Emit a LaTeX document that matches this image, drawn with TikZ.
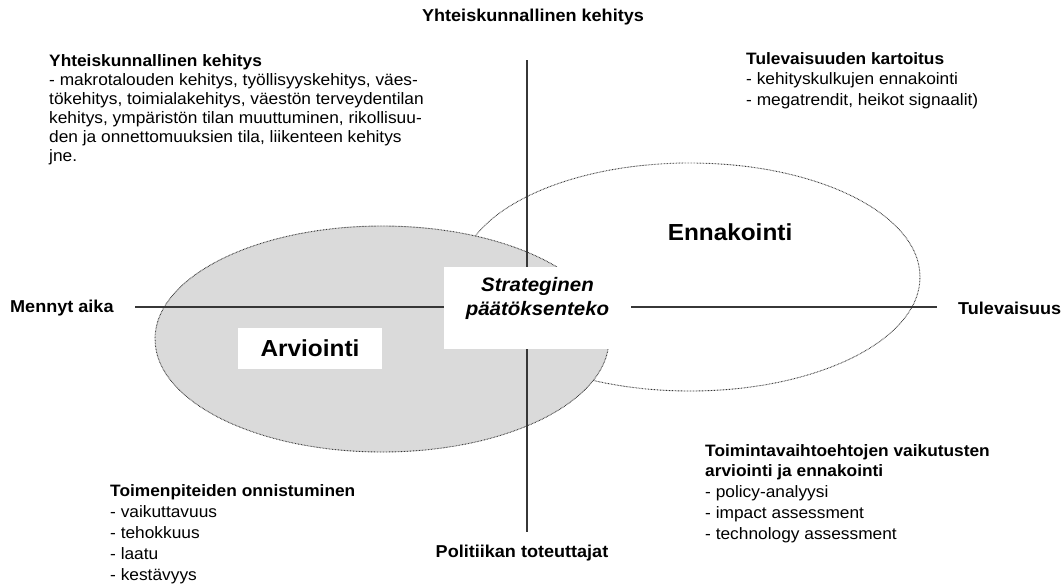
\documentclass[tikz,border=0pt]{standalone}
\usepackage{fontspec}
\setmainfont{Liberation Sans}[FakeStretch=1.05]
\usetikzlibrary{shapes.geometric}
\definecolor{ellgray}{RGB}{218,218,218}
\definecolor{axiscol}{RGB}{55,55,55}
\tikzset{
  ellout/.style={ellipse, inner sep=0pt, draw=black!80, line width=0.9pt, dash pattern=on 0.7pt off 0.8pt},
  axisline/.style={draw=axiscol, line width=2pt},
  block/.style={font=\fontsize{16.5}{19}\selectfont, align=left, inner sep=0pt, anchor=north west},
  axislabel/.style={font=\fontsize{17.2}{19}\selectfont\bfseries, inner sep=0pt},
  bigword/.style={font=\fontsize{23.2}{26}\selectfont\bfseries, inner sep=0pt},
  whitebox/.style={fill=white, draw=none, inner sep=0pt}
}
\begin{document}
\begin{tikzpicture}[x=1pt, y=-1pt]
\useasboundingbox (0,0) rectangle (1062,587);
% ellipses
\node[ellout, fill=white, minimum width=460pt, minimum height=228pt] (enn) at (690,277) {};
\node[ellout, fill=ellgray, minimum width=454pt, minimum height=226pt] (arv) at (382,339) {};
% axes
\coordinate (vtop) at (527,60);
\coordinate (vbot) at (527,532);
\coordinate (hleft) at (135,307);
\coordinate (hright) at (937,307);
\draw[axisline] (vtop) -- (vbot);
% central box
\node[whitebox, minimum width=187pt, minimum height=82pt] (sp) at (537.5,308) {};
\node[font=\fontsize{19.5}{24}\selectfont\bfseries\itshape, align=center, inner sep=0pt] (sptext) at ([yshift=10pt]sp.center) {Strateginen\\päätöksenteko};
\draw[axisline] (hleft) -- (hleft -| sp.west);
\draw[axisline] (hright -| sp.east) -- (hright);
% Arviointi box
\node[whitebox, minimum width=144pt, minimum height=41pt, bigword] (arvtext) at (310,348.5) {Arviointi};
\node[bigword] (enntext) at (730,232) {Ennakointi};
% axis labels
\node[axislabel] (top) at (533,17) {Yhteiskunnallinen kehitys};
\node[axislabel] (bottom) at (522,553) {Politiikan toteuttajat};
\node[axislabel, anchor=west] (left) at (10,308) {Mennyt aika};
\node[axislabel, anchor=west] (right) at (958,308) {Tulevaisuus};
% text blocks
\node[block] (tl) at (49,54) {\textbf{Yhteiskunnallinen kehitys}\\
- makrotalouden kehitys, työllisyyskehitys, väes-\\
tökehitys, toimialakehitys, väestön terveydentilan\\
kehitys, ympäristön tilan muuttuminen, rikollisuu-\\
den ja onnettomuuksien tila, liikenteen kehitys\\
jne.};
\node[block, font=\fontsize{16.5}{20.8}\selectfont] (tr) at (746,52) {\textbf{Tulevaisuuden kartoitus}\\
- kehityskulkujen ennakointi\\
- megatrendit, heikot signaalit)};
\node[block, font=\fontsize{16.5}{21.2}\selectfont] (bl) at (110,484) {\textbf{Toimenpiteiden onnistuminen}\\
- vaikuttavuus\\
- tehokkuus\\
- laatu\\
- kestävyys};
\node[block, font=\fontsize{16.5}{20.8}\selectfont] (br) at (705,444) {\textbf{Toimintavaihtoehtojen vaikutusten}\\
\textbf{arviointi ja ennakointi}\\
- policy-analyysi\\
- impact assessment\\
- technology assessment};
\end{tikzpicture}
\end{document}
